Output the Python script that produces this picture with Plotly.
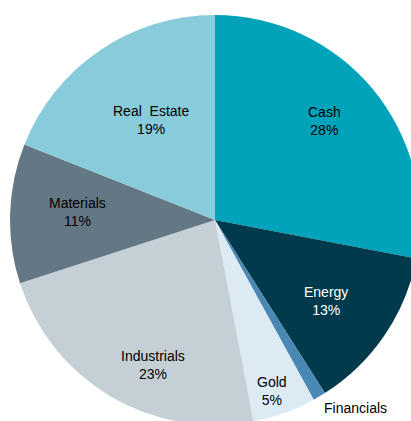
import math
import plotly.graph_objects as go

labels = ["Cash", "Energy", "Financials", "Gold", "Industrials", "Materials", "Real  Estate"]
values = [28, 13, 1, 5, 23, 11, 19]
colors = ["#00A3B9", "#003A4C", "#4A88B4", "#DCEAF4", "#C5CFD6", "#637884", "#88CBDB"]
text_colors = ["#000000", "#FFFFFF", "#000000", "#000000", "#000000", "#000000", "#000000"]
# label placement style (fraction of radius, angle tweak in degrees)
label_r = [0.72, 0.67, 1.18, 0.88, 0.77, 0.67, 0.58]
label_dtheta = [-2.6, 1.9, -5.0, 1.4, -7.6, 1.5, 1.6]

# layout geometry (pixels)
L, T, SIZE = 10, 15, 410
W, H = L + SIZE, T + SIZE
FONT = "Liberation Sans, Arial, sans-serif"

fig = go.Figure(go.Pie(
    labels=labels,
    values=values,
    sort=False,
    direction="clockwise",
    rotation=0,
    marker=dict(colors=colors, line=dict(width=0)),
    textinfo="none",
    showlegend=False,
    hoverinfo="label+percent",
))

total = sum(values)
cum = 0
annotations = []
for lab, v, tc, fr, dt in zip(labels, values, text_colors, label_r, label_dtheta):
    mid = (cum + v / 2) / total * 360 + dt
    cum += v
    th = math.radians(mid)
    # paper coords: center at (0.5, 0.5), radius 0.5 of the domain
    x = 0.5 + 0.5 * fr * math.sin(th)
    y = 0.5 + 0.5 * fr * math.cos(th)
    annotations.append(dict(
        x=x, y=y, xref="paper", yref="paper",
        text=f"{lab}<br>{round(v / total * 100)}%",
        showarrow=False, xanchor="center", yanchor="middle",
        font=dict(family=FONT, size=14, color=tc),
    ))

fig.update_layout(
    width=W, height=H,
    margin=dict(l=L, r=0, t=T, b=0, pad=0),
    paper_bgcolor="white",
    plot_bgcolor="white",
    annotations=annotations,
)

fig.write_html(
    "out.html",
    config={"displayModeBar": False},
    post_script="document.body.style.margin='0';document.body.style.overflow='hidden';document.documentElement.style.overflow='hidden';",
)
